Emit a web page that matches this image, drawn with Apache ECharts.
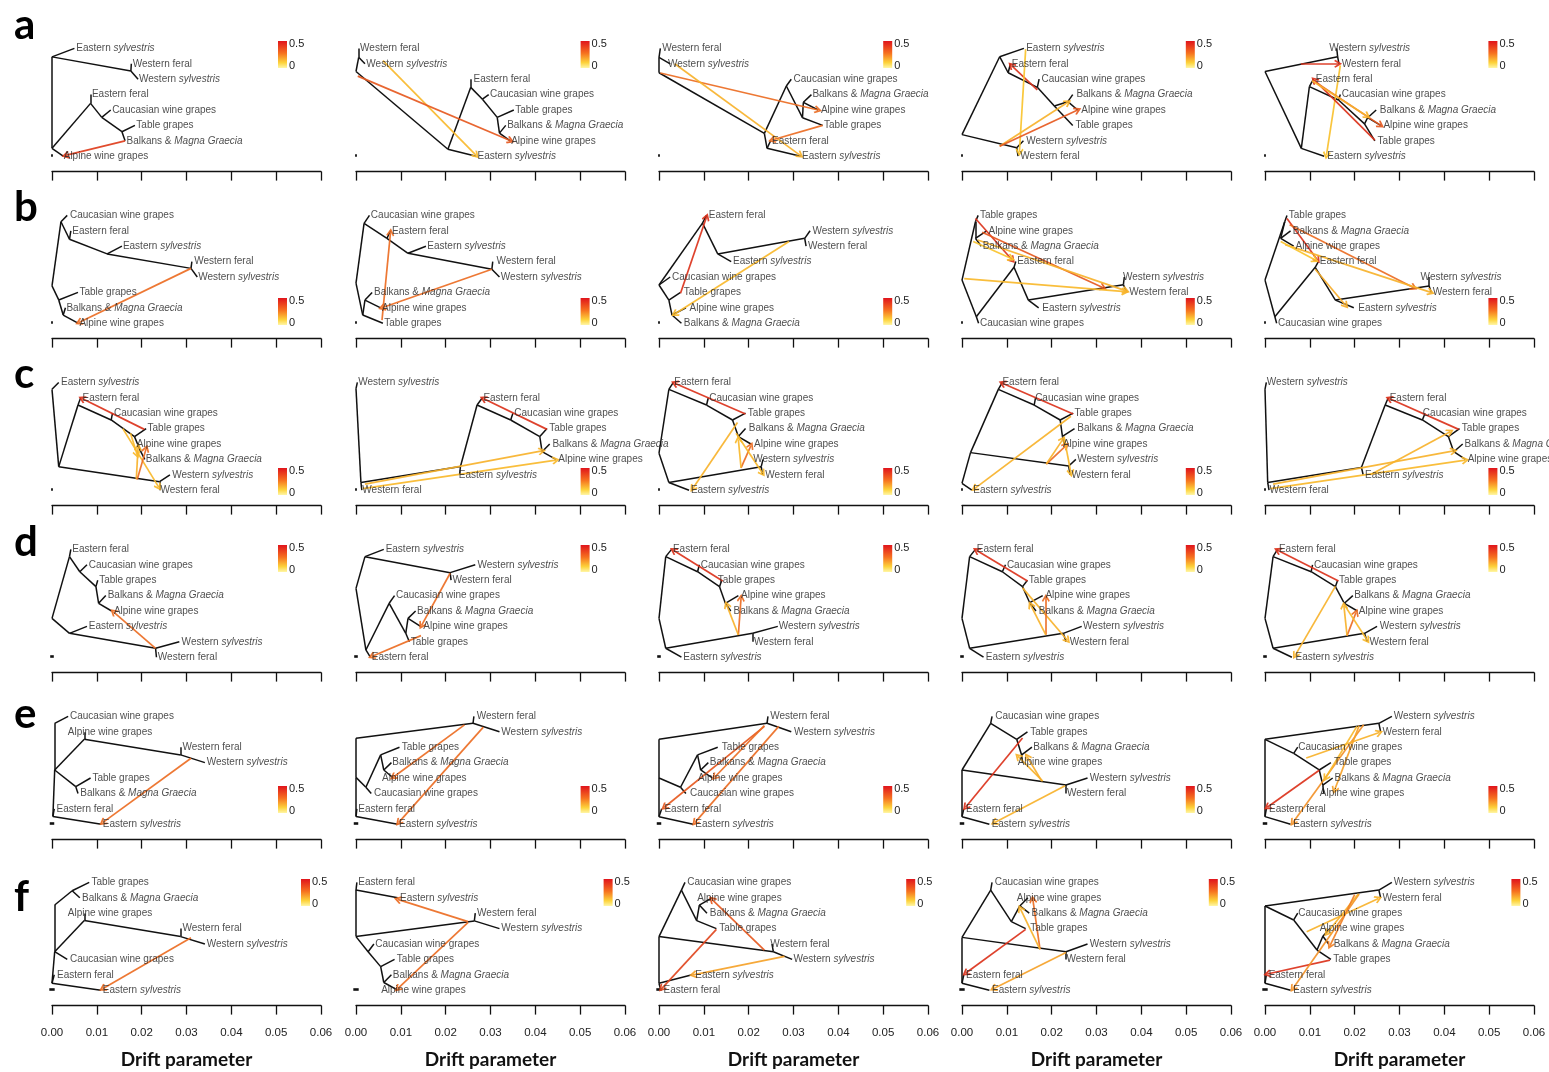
<!DOCTYPE html>
<html>
<head>
<meta charset="utf-8">
<script src="https://cdn.jsdelivr.net/npm/echarts@6/dist/echarts.min.js"></script>
<style>
html,body{margin:0;padding:0;background:#fff;}
#chart{width:1549px;height:1072px;}
</style>
</head>
<body>
<div id="chart"></div>
<script>
// Population names
const CW = 'Caucasian wine grapes', TG = 'Table grapes', BM = 'Balkans & Magna Graecia', AW = 'Alpine wine grapes';
const EF = 'Eastern feral', ES = 'Eastern sylvestris', WF = 'Western feral', WS = 'Western sylvestris';

const rowLetters = ['a', 'b', 'c', 'd', 'e', 'f'];
const driftTicks = { min: 0, max: 0.06, step: 0.01 };
const weightRange = ['0', '0.5'];
const scaleBarHalf = [0.0002, 0.0002, 0.0002, 0.0004, 0.0005, 0.0006];

// Trees: [drift, vertical position, parent index]; labels: [name, drift, position];
// migration edges: [fromDrift, fromPos, toDrift, toPos, weight]
const treeA1 = [[0,1.55,-1],[0.005,1,0],[0.0176,2.47,0],[0.0177,2,2],[0.0192,3,2],[0,7.49,0],[0.0025,8,5],[0.0086,4.57,5],[0.0086,4,7],[0.0111,5.48,7],[0.0131,5,9],[0.0156,6.41,9],[0.0185,6,11],[0.0163,7,11]];
const labelsA1 = [[ES,0.0053,1],[WF,0.0179,2],[WS,0.0193,3],[EF,0.0088,4],[CW,0.0133,5],[TG,0.0187,6],[BM,0.0165,7],[AW,0.0025,8]];
const migA1 = [[0.0163,7,0.003,7.95,0.42]];

const treeA2 = [[0,2.5,-1],[0.0006,1.58,0],[0.0006,1,1],[0.002,2,1],[0.0205,7.55,0],[0.0268,8,4],[0.0256,3.53,4],[0.0256,3,6],[0.0282,4.3,6],[0.0296,4,8],[0.0315,5.48,8],[0.0352,5,10],[0.032,6.5,10],[0.0334,6,12],[0.0344,7,12]];
const labelsA2 = [[WF,0.0008,1],[WS,0.0022,2],[EF,0.0261,3],[CW,0.0298,4],[TG,0.0354,5],[BM,0.0336,6],[AW,0.0345,7],[ES,0.027,8]];
const migA2 = [[0.006,1.8,0.0268,7.95,0.08],[0.0004,2.8,0.0345,7.0,0.35]];

const treeA3 = [[0,1.58,-1],[0.0003,1,0],[0.0025,2,0],[0,2.58,0],[0.0235,6.52,3],[0.0241,7.49,4],[0.0249,7,5],[0.0316,8,5],[0.0284,3.44,4],[0.0295,3,8],[0.032,5.5,8],[0.0365,6,10],[0.0322,4.5,10],[0.034,4,12],[0.0355,5,12]];
const labelsA3 = [[WF,0.0006,1],[WS,0.0019,2],[CW,0.0299,3],[BM,0.0341,4],[AW,0.036,5],[TG,0.0367,6],[EF,0.0251,7],[ES,0.0318,8]];
const migA3 = [[0.0003,2.6,0.0355,5,0.3],[0.0035,2,0.0315,7.95,0.1],[0.0365,6,0.0252,6.95,0.3]];

const treeA4 = [[0,6.6,-1],[0.0084,1.54,0],[0.0138,1,1],[0.0103,2.58,1],[0.0108,2,3],[0.0168,3.53,3],[0.0172,3,5],[0.0206,4.74,5],[0.0247,6,7],[0.0236,4.46,7],[0.0247,4,9],[0.0258,5,9],[0.0122,7.45,0],[0.0137,7,12],[0.0125,8,12]];
const labelsA4 = [[ES,0.0142,1],[EF,0.011,2],[CW,0.0176,3],[BM,0.0254,4],[AW,0.0265,5],[TG,0.0252,6],[WS,0.0142,7],[WF,0.0129,8]];
const migA4 = [[0.0168,3.7,0.011,2.1,0.45],[0.0142,1.05,0.0128,7.75,0.05],[0.0084,7.35,0.0236,4.5,0.1],[0.0084,7.35,0.0258,5.0,0.35]];

const treeA5 = [[0,2.5,-1],[0.0162,1.54,0],[0.016,1,1],[0.0165,2,1],[0.0081,7.49,0],[0.0132,8,4],[0.0099,3.48,4],[0.0108,3,6],[0.0164,4.35,6],[0.0168,4,8],[0.0222,5.9,8],[0.0245,7,10],[0.0229,5.5,10],[0.0248,5,12],[0.0258,6,12]];
const labelsA5 = [[WS,0.0142,1],[WF,0.017,2],[EF,0.0112,3],[CW,0.017,4],[BM,0.0255,5],[AW,0.0263,6],[TG,0.025,7],[ES,0.0138,8]];
const migA5 = [[0.008,2.02,0.0163,2,0.45],[0.0168,2.1,0.0137,7.95,0.06],[0.0245,6.95,0.011,3.05,0.45],[0.0118,3.3,0.0258,6,0.35],[0.0105,3.1,0.0228,5.4,0.1]];

const treeB1 = [[0,5.58,-1],[0.002,1.41,0],[0.0034,1,1],[0.0039,2.55,1],[0.0042,2,3],[0.0123,3.5,3],[0.0156,3,5],[0.031,4.44,5],[0.0312,4,7],[0.0324,5,7],[0.0015,6.49,0],[0.0058,6,10],[0.0025,7.47,10],[0.003,7,12],[0.0058,8,12]];
const labelsB1 = [[CW,0.0039,1],[EF,0.0044,2],[ES,0.0157,3],[WF,0.0316,4],[WS,0.0325,5],[TG,0.006,6],[BM,0.0031,7],[AW,0.006,8]];
const migB1 = [[0.031,4.44,0.006,7.95,0.3]];

const treeB2 = [[0,5.4,-1],[0.0018,1.52,0],[0.003,1,1],[0.0069,2.49,1],[0.0077,2,3],[0.0116,3.46,3],[0.0156,3,5],[0.0303,4.5,5],[0.0305,4,7],[0.032,5,7],[0.0015,7.47,0],[0.006,8,10],[0.002,6.5,10],[0.0036,6,12],[0.0055,7,12]];
const labelsB2 = [[CW,0.0032,1],[EF,0.0079,2],[ES,0.0158,3],[WF,0.0312,4],[WS,0.0322,5],[BM,0.0039,6],[AW,0.0057,7],[TG,0.0062,8]];
const migB2 = [[0.0058,7.8,0.0077,2.1,0.3],[0.0303,4.5,0.0058,7.0,0.3]];

const treeB3 = [[0,5.52,-1],[0.0097,1.5,0],[0.0106,1,1],[0.0131,3.5,1],[0.0161,4,3],[0.0325,2.49,3],[0.0337,2,5],[0.0328,3,5],[0.0025,5,0],[0.0022,6.5,0],[0.0048,6,9],[0.0029,7.47,9],[0.006,7,11],[0.005,8,11]];
const labelsB3 = [[EF,0.011,1],[WS,0.0341,2],[WF,0.0331,3],[ES,0.0164,4],[CW,0.0028,5],[TG,0.0054,6],[AW,0.0067,7],[BM,0.0054,8]];
const migB3 = [[0.0048,6.05,0.0106,1.1,0.45],[0.029,2.7,0.0035,7.4,0.08]];

const treeB4 = [[0,5.2,-1],[0.003,1.41,0],[0.0036,1,1],[0.003,2.49,1],[0.0055,2,3],[0.0043,3,3],[0.0032,7.58,0],[0.0037,8,6],[0.0116,4.37,6],[0.012,4,8],[0.0148,6.5,8],[0.0171,7,10],[0.036,5.5,10],[0.0362,5,12],[0.0368,6,12]];
const labelsB4 = [[TG,0.0039,1],[AW,0.0058,2],[BM,0.0045,3],[EF,0.0122,4],[WS,0.0358,5],[WF,0.0372,6],[ES,0.0178,7],[CW,0.0039,8]];
const migB4 = [[0.003,1.2,0.0112,3.9,0.45],[0.0045,2.1,0.0315,5.7,0.35],[0.0005,5.1,0.0364,5.95,0.08],[0.0035,2.6,0.0366,5.9,0.1],[0.0025,2.7,0.011,3.8,0.05]];

const treeB5 = [[0,5.2,-1],[0.0044,1.41,0],[0.0049,1,1],[0.0035,2.49,1],[0.0057,2,3],[0.0064,3,3],[0.0022,7.58,0],[0.0026,8,6],[0.0112,4.37,6],[0.0119,4,8],[0.0157,6.5,8],[0.0198,7,10],[0.0366,5.58,10],[0.0366,5,12],[0.0371,6,12]];
const labelsB5 = [[TG,0.0052,1],[BM,0.0061,2],[AW,0.0067,3],[EF,0.0121,4],[WS,0.0346,5],[WF,0.0373,6],[ES,0.0207,7],[CW,0.0028,8]];
const migB5 = [[0.0049,1.2,0.0117,3.9,0.45],[0.0055,1.6,0.0332,5.7,0.3],[0.0045,2.9,0.037,6.0,0.1],[0.0112,4.5,0.018,6.85,0.12],[0.0035,2.7,0.0112,3.9,0.05]];

const treeC1 = [[0,1.45,-1],[0.0015,1,0],[0.0015,6.47,0],[0.0058,2.47,2],[0.0064,2,3],[0.0132,3.44,3],[0.0135,3,5],[0.0184,4.52,5],[0.021,4,7],[0.0198,5.5,7],[0.0192,5,9],[0.0207,6,9],[0.024,7.45,2],[0.0263,7,12],[0.024,8,12]];
const labelsC1 = [[ES,0.0019,1],[EF,0.0067,2],[CW,0.0137,3],[TG,0.0212,4],[AW,0.0188,5],[BM,0.0208,6],[WS,0.0267,7],[WF,0.0241,8]];
const migC1 = [[0.0206,4.05,0.0067,2.05,0.45],[0.0158,4.0,0.0238,7.8,0.08],[0.0188,7.3,0.0192,5.2,0.1],[0.019,7.3,0.021,5.3,0.3],[0.0175,4.3,0.019,5.7,0.08]];

const treeC2 = [[0,1.4,-1],[0.0003,1,0],[0.0011,7.5,0],[0.0013,8,2],[0.0233,6.46,2],[0.0231,7,4],[0.027,2.47,4],[0.0282,2,6],[0.0345,3.44,6],[0.035,3,8],[0.041,4.52,8],[0.0426,4,10],[0.0415,5.5,10],[0.0432,5,12],[0.0446,6,12]];
const labelsC2 = [[WS,0.0004,1],[EF,0.0283,2],[CW,0.0352,3],[TG,0.043,4],[BM,0.0437,5],[AW,0.045,6],[ES,0.0228,7],[WF,0.0013,8]];
const migC2 = [[0.0426,4.05,0.0284,2.05,0.45],[0.0015,7.9,0.0446,6.05,0.08],[0.002,7.6,0.0415,5.45,0.1]];

const treeC3 = [[0,5.6,-1],[0.0022,1.45,0],[0.0032,1,1],[0.0106,2.47,1],[0.011,2,3],[0.0164,3.44,3],[0.0193,3,5],[0.0177,4.52,5],[0.0193,4,7],[0.0205,5,7],[0.0022,7.5,0],[0.0067,8,10],[0.0228,6.47,10],[0.0232,6,12],[0.0231,7,12]];
const labelsC3 = [[EF,0.0033,1],[CW,0.0111,2],[TG,0.0197,3],[BM,0.0199,4],[AW,0.0211,5],[WS,0.0209,6],[WF,0.0236,7],[ES,0.007,8]];
const migC3 = [[0.0193,3.05,0.0035,1.05,0.45],[0.0175,3.6,0.0075,7.9,0.1],[0.0183,6.55,0.0205,5.1,0.3],[0.0183,6.55,0.0177,4.7,0.08],[0.0172,4.3,0.0231,6.9,0.08]];

const treeC4 = [[0,7.55,-1],[0.0022,8,0],[0.0019,5.56,0],[0.0081,1.45,2],[0.009,1,3],[0.0161,2.47,3],[0.0164,2,5],[0.0219,3.44,5],[0.0248,3,7],[0.0224,4.5,7],[0.0251,4,9],[0.0228,5,9],[0.0238,6.43,2],[0.0254,6,12],[0.0241,7,12]];
const labelsC4 = [[EF,0.0089,1],[CW,0.0162,2],[TG,0.025,3],[BM,0.0256,4],[AW,0.0224,5],[WS,0.0256,6],[WF,0.0243,7],[ES,0.0024,8]];
const migC4 = [[0.0248,3.05,0.009,1.05,0.45],[0.0243,3.2,0.0028,7.9,0.1],[0.0188,6.3,0.0232,5.1,0.3],[0.0188,6.3,0.0225,4.7,0.1],[0.0228,4.6,0.0243,6.9,0.08]];

const treeC5 = [[0,1.45,-1],[0.0003,1,0],[0.0006,7.5,0],[0.0009,8,2],[0.0215,6.52,2],[0.0219,7,4],[0.0268,2.47,4],[0.0275,2,6],[0.0351,3.44,6],[0.0357,3,8],[0.0409,4.52,8],[0.0434,4,10],[0.0421,5.5,10],[0.0441,5,12],[0.0447,6,12]];
const labelsC5 = [[WS,0.0003,1],[EF,0.0277,2],[CW,0.0351,3],[TG,0.0438,4],[BM,0.0444,5],[AW,0.0451,6],[ES,0.0222,7],[WF,0.0009,8]];
const migC5 = [[0.0432,4.05,0.0277,2.05,0.45],[0.0012,7.9,0.0447,6.05,0.08],[0.0018,7.6,0.0421,5.45,0.1],[0.0235,7.0,0.0413,4.2,0.1]];

const treeD1 = [[0,5.48,-1],[0.0039,1.47,0],[0.0042,1,1],[0.0062,2.45,1],[0.0078,2,3],[0.0098,3.42,3],[0.0102,3,5],[0.0104,4.5,5],[0.012,4,7],[0.0133,5,7],[0.0039,6.45,0],[0.0078,6,10],[0.0231,7.42,10],[0.0284,7,12],[0.0233,8,12]];
const labelsD1 = [[EF,0.0044,1],[CW,0.0081,2],[TG,0.0104,3],[BM,0.0123,4],[AW,0.0137,5],[ES,0.0081,6],[WS,0.0288,7],[WF,0.0235,8]];
const migD1 = [[0.0231,7.42,0.0137,5.05,0.3]];

const treeD2 = [[0,3.53,-1],[0.002,1.47,0],[0.0062,1,1],[0.021,2.51,1],[0.0266,2,3],[0.0212,3,3],[0.0022,7.53,0],[0.0032,8,6],[0.0074,4.5,6],[0.0086,4,8],[0.0111,6.45,8],[0.0119,7,10],[0.0116,5.48,10],[0.0133,5,12],[0.0144,6,12]];
const labelsD2 = [[ES,0.0065,1],[WS,0.027,2],[WF,0.0214,3],[CW,0.0088,4],[BM,0.0135,5],[AW,0.0149,6],[TG,0.0121,7],[EF,0.0034,8]];
const migD2 = [[0.021,2.55,0.0146,5.95,0.3],[0.0145,6.6,0.0035,7.95,0.3]];

const treeD3 = [[0,5.48,-1],[0.0015,1.47,0],[0.0028,1,1],[0.0086,2.45,1],[0.009,2,3],[0.0135,3.42,3],[0.014,3,5],[0.0148,4.5,5],[0.0177,4,7],[0.016,5,7],[0.0015,7.42,0],[0.005,8,10],[0.0209,6.45,10],[0.0265,6,12],[0.0209,7,12]];
const labelsD3 = [[EF,0.003,1],[CW,0.0092,2],[TG,0.013,3],[AW,0.0182,4],[BM,0.0165,5],[WS,0.0266,6],[WF,0.0211,7],[ES,0.0053,8]];
const migD3 = [[0.0142,3.05,0.0032,1.05,0.45],[0.0177,6.56,0.0183,4.15,0.3],[0.0177,6.56,0.0151,4.6,0.1]];

const treeD4 = [[0,5.48,-1],[0.0017,1.47,0],[0.003,1,1],[0.009,2.45,1],[0.0097,2,3],[0.0135,3.42,3],[0.0146,3,5],[0.0151,4.46,5],[0.018,4,7],[0.0165,5,7],[0.0017,7.42,0],[0.0048,8,10],[0.0226,6.45,10],[0.0267,6,12],[0.0232,7,12]];
const labelsD4 = [[EF,0.0032,1],[CW,0.0099,2],[TG,0.0148,3],[AW,0.0185,4],[BM,0.017,5],[WS,0.0269,6],[WF,0.0239,7],[ES,0.0052,8]];
const migD4 = [[0.0146,3.05,0.0032,1.05,0.45],[0.0135,3.5,0.0235,6.9,0.1],[0.0187,6.55,0.0187,4.15,0.3],[0.0187,6.55,0.0153,4.6,0.1]];

const treeD5 = [[0,5.48,-1],[0.0018,1.47,0],[0.0028,1,1],[0.0103,2.45,1],[0.0106,2,3],[0.0157,3.42,3],[0.0162,3,5],[0.0177,4.5,5],[0.0196,4,7],[0.0206,5,7],[0.0018,7.42,0],[0.006,8,10],[0.0222,6.45,10],[0.025,6,12],[0.0228,7,12]];
const labelsD5 = [[EF,0.003,1],[CW,0.0108,2],[TG,0.0164,3],[BM,0.0198,4],[AW,0.0208,5],[WS,0.0255,6],[WF,0.0232,7],[ES,0.0067,8]];
const migD5 = [[0.0164,3.05,0.0028,1.05,0.45],[0.0157,3.4,0.0067,7.9,0.1],[0.0183,6.6,0.0203,5.1,0.3],[0.0183,6.6,0.0176,4.65,0.1],[0.0177,4.6,0.0228,6.9,0.08]];

const treeE1 = [[0.0006,4.48,-1],[0.0006,1.45,0],[0.0036,1,1],[0.0072,2.49,0],[0.0072,2.03,3],[0.0287,3.5,3],[0.0287,3,5],[0.0341,4,5],[0.0053,5.56,0],[0.0086,5,8],[0.0058,6,8],[0.0002,7.5,0],[0.0005,7,11],[0.011,8,11]];
const labelsE1 = [[CW,0.0039,1],[AW,0.0034,2],[WF,0.029,3],[WS,0.0344,4],[TG,0.0089,5],[BM,0.0062,6],[EF,0.0009,7],[ES,0.0112,8]];
const migE1 = [[0.031,3.72,0.0113,7.9,0.3]];

const treeE2 = [[0,2.42,-1],[0.0261,1.45,0],[0.0263,1,1],[0.032,2,1],[0,4.96,0],[0.0022,5.6,4],[0.0034,6,5],[0.0055,3.5,5],[0.0097,3,7],[0.0062,4.48,7],[0.0079,4,9],[0.0083,5,9],[0,7.5,4],[0.0002,7,12],[0.0093,8,12]];
const labelsE2 = [[WF,0.0268,1],[WS,0.0323,2],[TG,0.0101,3],[BM,0.008,4],[AW,0.0057,5],[CW,0.0039,6],[EF,0.0004,7],[ES,0.0095,8]];
const migE2 = [[0.0242,1.55,0.0083,4.95,0.3],[0.0284,1.7,0.0095,7.9,0.3]];

const treeE3 = [[0,2.49,-1],[0.0241,1.45,0],[0.0243,1,1],[0.0295,2,1],[0,5.0,0],[0.0048,5.6,4],[0.006,6,5],[0.0086,3.5,5],[0.0131,3,7],[0.0093,4.48,7],[0.011,4,9],[0.0119,5,9],[0,7.51,4],[0.0006,7,12],[0.0076,8,12]];
const labelsE3 = [[WF,0.0247,1],[WS,0.03,2],[TG,0.0139,3],[BM,0.0112,4],[AW,0.0086,5],[CW,0.0068,6],[EF,0.0011,7],[ES,0.008,8]];
const migE3 = [[0.0235,1.65,0.0012,6.9,0.35],[0.0267,1.65,0.008,7.9,0.3],[0.0235,1.6,0.0124,4.95,0.3]];

const treeE4 = [[0,4.48,-1],[0.0064,1.45,0],[0.0067,1,1],[0.0122,2.49,1],[0.0146,2,3],[0.0133,3.5,3],[0.0156,3,5],[0.0135,4,5],[0,7.51,0],[0.0004,7,8],[0.0061,8,8],[0.0232,5.45,0],[0.028,5,11],[0.0232,6,11]];
const labelsE4 = [[CW,0.0073,1],[TG,0.0151,2],[BM,0.0158,3],[AW,0.0123,4],[WS,0.0284,5],[WF,0.0233,6],[EF,0.0008,7],[ES,0.0065,8]];
const migE4 = [[0.0135,2.4,0.0008,6.9,0.45],[0.023,5.5,0.0072,7.9,0.1],[0.018,5.2,0.0125,3.6,0.1],[0.0178,5.2,0.0145,3.6,0.12]];

const treeE5 = [[0,2.49,-1],[0.0254,1.45,0],[0.0283,1,1],[0.0258,2,1],[0.0064,3.4,0],[0.0073,3,4],[0.0121,4.48,4],[0.0147,4,6],[0.0129,5.46,6],[0.0151,5,8],[0.0131,6,8],[0,7.51,0],[0.0003,7,11],[0.0057,8,11]];
const labelsE5 = [[WS,0.0286,1],[WF,0.0261,2],[CW,0.0073,3],[TG,0.0153,4],[BM,0.0154,5],[AW,0.0121,6],[EF,0.0008,7],[ES,0.0062,8]];
const migE5 = [[0.0121,4.5,0.0005,6.9,0.45],[0.022,1.55,0.0062,7.9,0.2],[0.0092,3.7,0.0255,2.05,0.1],[0.021,1.6,0.0155,5.8,0.15],[0.0205,1.65,0.0135,5.0,0.08]];

const treeF1 = [[0.0006,5.5,-1],[0.0006,2.47,0],[0.0045,1.54,1],[0.0083,1,2],[0.0062,2,2],[0.0072,3.48,0],[0.0072,3.02,5],[0.0287,4.52,5],[0.0287,4,7],[0.0341,5,7],[0.0034,6,0],[0,7.55,0],[0.0005,7,11],[0.0109,8,11]];
const labelsF1 = [[TG,0.0087,1],[BM,0.0066,2],[AW,0.0034,3],[WF,0.029,4],[WS,0.0344,5],[CW,0.0039,6],[EF,0.001,7],[ES,0.0112,8]];
const migF1 = [[0.031,4.6,0.0113,7.9,0.3]];

const treeF2 = [[0,4.52,-1],[0,1.5,0],[0.0002,1,1],[0.0093,2,1],[0.0264,3.5,0],[0.0266,3,4],[0.032,4,4],[0.0027,5.5,0],[0.004,5,7],[0.0055,6.47,7],[0.0086,6,9],[0.0062,7.5,9],[0.0079,7,11],[0.0093,8,11]];
const labelsF2 = [[EF,0.0004,1],[ES,0.0097,2],[WF,0.0269,3],[WS,0.0323,4],[CW,0.0042,5],[TG,0.009,6],[BM,0.0081,7],[AW,0.0055,8]];
const migF2 = [[0.025,3.55,0.0093,2.1,0.3],[0.025,3.6,0.0093,7.9,0.3]];

const treeF3 = [[0,4.52,-1],[0.005,1.5,0],[0.0058,1,1],[0.0084,3.48,1],[0.0128,4,3],[0.009,2.47,3],[0.0118,2,5],[0.0107,3,5],[0.0255,5.5,0],[0.0252,5,8],[0.0297,6,8],[0,7.55,0],[0.0074,7,11],[0.0004,8,11]];
const labelsF3 = [[CW,0.0062,1],[AW,0.0084,2],[BM,0.0112,3],[TG,0.0133,4],[WF,0.0247,5],[WS,0.0299,6],[ES,0.008,7],[EF,0.0009,8]];
const migF3 = [[0.0235,5.4,0.0118,2.1,0.35],[0.0128,4.05,0.0006,7.9,0.4],[0.028,5.8,0.0076,7.0,0.15]];

const treeF4 = [[0,4.57,-1],[0.0064,1.5,0],[0.0067,1,1],[0.011,3.55,1],[0.0142,4,3],[0.0129,2.53,3],[0.0147,2,5],[0.015,3,5],[0.0232,5.5,0],[0.028,5,8],[0.0232,6,8],[0,7.55,0],[0.0004,7,11],[0.0061,8,11]];
const labelsF4 = [[CW,0.0072,1],[AW,0.0121,2],[BM,0.0154,3],[TG,0.0151,4],[WS,0.0284,5],[WF,0.0232,6],[EF,0.0008,7],[ES,0.0066,8]];
const migF4 = [[0.0142,4.05,0.0008,6.9,0.45],[0.0232,5.55,0.007,7.9,0.15],[0.0174,5.35,0.0158,2.1,0.3],[0.0174,5.35,0.013,2.7,0.1]];

const treeF5 = [[0,2.53,-1],[0.0254,1.5,0],[0.0283,1,1],[0.0258,2,1],[0.0064,3.44,0],[0.0073,3,4],[0.0116,5.39,4],[0.0147,6,6],[0.0129,4.5,6],[0.0145,4,8],[0.0142,5,8],[0,7.55,0],[0.0003,7,11],[0.0057,8,11]];
const labelsF5 = [[WS,0.0286,1],[WF,0.0261,2],[CW,0.0073,3],[AW,0.0121,4],[BM,0.0152,5],[TG,0.0151,6],[EF,0.0007,7],[ES,0.0062,8]];
const migF5 = [[0.0145,6.05,0.0005,6.95,0.45],[0.021,1.75,0.0062,7.9,0.2],[0.0093,4.2,0.0253,2.05,0.1],[0.0208,1.75,0.0138,4.3,0.1],[0.02,1.8,0.0145,5.1,0.25]];

const panels = [
  [treeA1, labelsA1, migA1], [treeA2, labelsA2, migA2], [treeA3, labelsA3, migA3], [treeA4, labelsA4, migA4], [treeA5, labelsA5, migA5],
  [treeB1, labelsB1, migB1], [treeB2, labelsB2, migB2], [treeB3, labelsB3, migB3], [treeB4, labelsB4, migB4], [treeB5, labelsB5, migB5],
  [treeC1, labelsC1, migC1], [treeC2, labelsC2, migC2], [treeC3, labelsC3, migC3], [treeC4, labelsC4, migC4], [treeC5, labelsC5, migC5],
  [treeD1, labelsD1, migD1], [treeD2, labelsD2, migD2], [treeD3, labelsD3, migD3], [treeD4, labelsD4, migD4], [treeD5, labelsD5, migD5],
  [treeE1, labelsE1, migE1], [treeE2, labelsE2, migE2], [treeE3, labelsE3, migE3], [treeE4, labelsE4, migE4], [treeE5, labelsE5, migE5],
  [treeF1, labelsF1, migF1], [treeF2, labelsF2, migF2], [treeF3, labelsF3, migF3], [treeF4, labelsF4, migF4], [treeF5, labelsF5, migF5]
];

// ---- layout ----
const colLeft = [52, 356, 659, 962, 1265];
const rowTop = [33, 200, 367, 534, 701, 867];
const plotW = 269, plotH = 138.6;
const letterBase = [38, 220, 387, 555, 727, 910];
const keyTop = [41, 298, 468, 545, 786, 879];
const keyLeftAE = 278, keyLeftF = 301, colStep = 302.6, keyW = 9, keyH = 27;

// migration weight colour scale (0 -> 0.5)
const heatStops = [[0, [252, 212, 46]], [0.5, [240, 128, 38]], [1, [214, 30, 24]]];
function heat(w) {
  const t = Math.max(0, Math.min(1, w / 0.5));
  const i = t <= 0.5 ? 0 : 1;
  const a = heatStops[i], b = heatStops[i + 1];
  const u = (t - a[0]) / (b[0] - a[0]);
  const c = a[1].map((v, k) => Math.round(v + (b[1][k] - v) * u));
  return 'rgb(' + c.join(',') + ')';
}
function fmtName(n) {
  return n.replace('sylvestris', '{i|sylvestris}').replace('Magna Graecia', '{i|Magna Graecia}');
}

const ARROW = 'path://M5,0 L10,8.4 L8.5,10 L5,4.3 L1.5,10 L0,8.4 Z';
const LABEL_FONT = 'Liberation Sans, Arial, sans-serif';

const grids = [], xAxes = [], yAxes = [], series = [], graphics = [];

panels.forEach(function (p, idx) {
  const r = Math.floor(idx / 5), c = idx % 5;
  const tree = p[0], labels = p[1], mig = p[2];
  grids.push({ left: colLeft[c], top: rowTop[r], width: plotW, height: plotH, containLabel: false });
  xAxes.push({
    gridIndex: idx, type: 'value', min: driftTicks.min, max: driftTicks.max, interval: driftTicks.step,
    axisLine: { show: true, onZero: false, lineStyle: { color: '#111', width: 1.3 } },
    axisTick: { show: true, length: 9, lineStyle: { color: '#111', width: 1.3 } },
    splitLine: { show: false },
    axisLabel: { show: r === 5, formatter: function (v) { return v.toFixed(2); }, fontSize: 11.5, color: '#222', margin: 21, fontFamily: LABEL_FONT },
    name: r === 5 ? 'Drift parameter' : '', nameLocation: 'middle', nameGap: 45,
    nameTextStyle: { fontFamily: 'Lato, sans-serif', fontWeight: 'bold', fontSize: 19, color: '#111' }
  });
  yAxes.push({ gridIndex: idx, type: 'value', min: 0, max: 9, inverse: true, show: false });

  // tree branches
  series.push({
    type: 'lines', coordinateSystem: 'cartesian2d', xAxisIndex: idx, yAxisIndex: idx,
    silent: true, clip: false, z: 2,
    lineStyle: { color: '#111', width: 1.5, opacity: 1 },
    data: tree.filter(function (n) { return n[2] >= 0; }).map(function (n) {
      const par = tree[n[2]];
      return { coords: [[par[0], par[1]], [n[0], n[1]]] };
    })
  });
  // migration edges
  series.push({
    type: 'lines', coordinateSystem: 'cartesian2d', xAxisIndex: idx, yAxisIndex: idx,
    silent: true, clip: false, z: 3,
    symbol: ['none', ARROW], symbolSize: 8,
    lineStyle: { width: 1.7, opacity: 0.92 },
    data: mig.map(function (m) {
      return { coords: [[m[0], m[1]], [m[2], m[3]]], lineStyle: { color: heat(m[4]), width: 1.7, opacity: 0.92 } };
    })
  });
  // leaf labels
  series.push({
    type: 'scatter', xAxisIndex: idx, yAxisIndex: idx, silent: true, clip: false, z: 4,
    symbolSize: 1, itemStyle: { color: 'rgba(0,0,0,0)' },
    label: {
      show: true, position: 'right', distance: 0, color: '#222', fontSize: 10, fontFamily: LABEL_FONT,
      formatter: function (pp) { return fmtName(pp.name); },
      rich: { i: { fontStyle: 'italic', fontSize: 10, fontFamily: LABEL_FONT, color: '#222' } }
    },
    data: labels.map(function (l) { return { name: l[0], value: [l[1], l[2]] }; })
  });
  // drift scale bar
  series.push({
    type: 'lines', coordinateSystem: 'cartesian2d', xAxisIndex: idx, yAxisIndex: idx,
    silent: true, clip: false, z: 2,
    lineStyle: { color: '#111', width: 2.6, opacity: 1 },
    data: [{ coords: [[-scaleBarHalf[r], 7.95], [scaleBarHalf[r], 7.95]] }]
  });

  // weight key
  const kx = (r === 5 ? keyLeftF : keyLeftAE) + c * colStep;
  const ky = keyTop[r];
  graphics.push({
    type: 'rect', shape: { x: kx, y: ky, width: keyW, height: keyH }, silent: true,
    style: {
      fill: new echarts.graphic.LinearGradient(0, 0, 0, 1, [
        { offset: 0, color: '#E0141C' }, { offset: 0.45, color: '#F6701F' },
        { offset: 0.8, color: '#FDD23A' }, { offset: 1, color: '#FFF6A6' }
      ])
    }
  });
  graphics.push({ type: 'text', x: kx + keyW + 2, y: ky + 3, silent: true,
    style: { text: weightRange[1], fontSize: 11, fontFamily: LABEL_FONT, fill: '#222', align: 'left', verticalAlign: 'middle' } });
  graphics.push({ type: 'text', x: kx + keyW + 2, y: ky + keyH - 2, silent: true,
    style: { text: weightRange[0], fontSize: 11, fontFamily: LABEL_FONT, fill: '#222', align: 'left', verticalAlign: 'middle' } });
});

rowLetters.forEach(function (t, r) {
  graphics.push({ type: 'text', x: 14, y: letterBase[r] - 13, silent: true,
    style: { text: t, fontSize: 42, fontWeight: 'bold', fontFamily: 'Lato, sans-serif', fill: '#000', align: 'left', verticalAlign: 'middle' } });
});

const chart = echarts.init(document.getElementById('chart'), null, { renderer: 'canvas' });
chart.setOption({
  animation: false,
  backgroundColor: '#fff',
  grid: grids, xAxis: xAxes, yAxis: yAxes, series: series, graphic: graphics
});
</script>
</body>
</html>
